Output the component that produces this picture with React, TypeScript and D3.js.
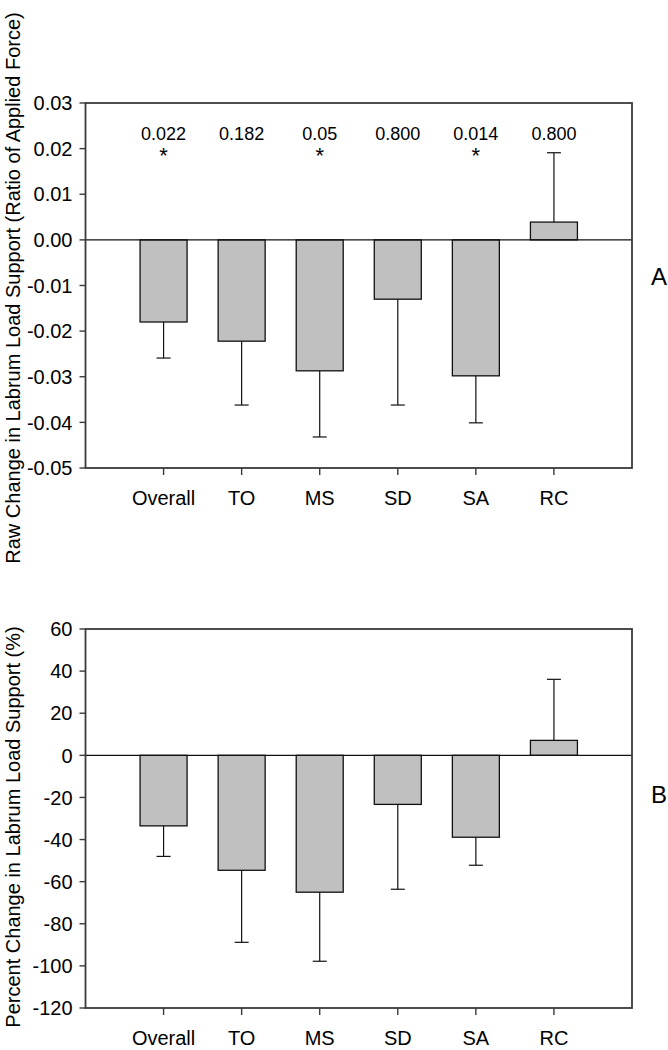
import React from "react";
import * as d3 from "d3";

const categories = ["Overall", "TO", "MS", "SD", "SA", "RC"];
const rawValues = [-0.018, -0.0222, -0.0287, -0.013, -0.0298, 0.0039];
const rawErrors = [-0.0259, -0.0362, -0.0432, -0.0362, -0.0401, 0.0191];
const pValues = ["0.022", "0.182", "0.05", "0.800", "0.014", "0.800"];
const significant = [true, false, true, false, true, false];
const rawTicks = [0.03, 0.02, 0.01, 0.0, -0.01, -0.02, -0.03, -0.04, -0.05];

const pctValues = [-33.5, -54.6, -65, -23.3, -38.9, 7.1];
const pctErrors = [-48, -88.8, -97.8, -63.6, -52.2, 36.1];
const pctTicks = [60, 40, 20, 0, -20, -40, -60, -80, -100, -120];

const FONT = "'Liberation Sans', Arial, sans-serif";

type PanelProps = {
  top: number;
  bottom: number;
  domain: [number, number];
  values: number[];
  errors: number[];
  ticks: number[];
  fmt: (v: number) => string;
  title: string;
  titleY: number;
  letter: string;
  letterY: number;
  pv?: string[];
  sig?: boolean[];
};

function Panel({ top, bottom, domain, values, errors, ticks, fmt, title, titleY, letter, letterY, pv, sig }: PanelProps) {
  const left = 85.5;
  const right = 632;
  const x = d3.scaleLinear().domain([0, 7]).range([left, right]);
  const y = d3.scaleLinear().domain(domain).range([bottom, top]);
  const bw = 47;
  const cap = 14;
  const frame = "#3a3a3a";
  return (
    <g>
      {categories.map((c, i) => {
        const cx = x(i + 1);
        const v = values[i];
        const y0 = y(0);
        const yv = y(v);
        return (
          <g key={c}>
            <line x1={cx} x2={cx} y1={yv} y2={y(errors[i])} stroke="#111" strokeWidth={1.2} />
            <line x1={cx - cap / 2} x2={cx + cap / 2} y1={y(errors[i])} y2={y(errors[i])} stroke="#111" strokeWidth={1.2} />
            <rect
              x={cx - bw / 2}
              y={Math.min(y0, yv)}
              width={bw}
              height={Math.abs(yv - y0)}
              fill="#c0c0c0"
              stroke="#111"
              strokeWidth={1.3}
            />
          </g>
        );
      })}
      <line x1={left} x2={right} y1={y(0)} y2={y(0)} stroke="#111" strokeWidth={1.3} />
      <rect x={left} y={top} width={right - left} height={bottom - top} fill="none" stroke={frame} strokeWidth={1.8} />
      {ticks.map((t) => (
        <g key={t}>
          <line x1={left - 6} x2={left} y1={y(t)} y2={y(t)} stroke={frame} strokeWidth={1.4} />
          <text x={left - 13} y={y(t)} dy="0.36em" textAnchor="end" fontSize={20} fontFamily={FONT} fill="#000">
            {fmt(t)}
          </text>
        </g>
      ))}
      {categories.map((c, i) => (
        <g key={"x" + c}>
          <line x1={x(i + 1)} x2={x(i + 1)} y1={bottom} y2={bottom + 7} stroke={frame} strokeWidth={1.4} />
          <text x={x(i + 1)} y={bottom + 37} textAnchor="middle" fontSize={20} fontFamily={FONT} fill="#000">
            {c}
          </text>
        </g>
      ))}
      {pv &&
        pv.map((p, i) => (
          <g key={"p" + i}>
            <text x={x(i + 1)} y={top + 37} textAnchor="middle" fontSize={18} fontFamily={FONT} fill="#000">
              {p}
            </text>
            {sig && sig[i] && (
              <text x={x(i + 1)} y={top + 60} textAnchor="middle" fontSize={22} fontFamily={FONT} fill="#000">
                *
              </text>
            )}
          </g>
        ))}
      <text
        transform={`translate(13,${titleY}) rotate(-90)`}
        textAnchor="middle"
        dy="0.35em"
        fontSize={20}
        fontFamily={FONT}
        fill="#000"
      >
        {title}
      </text>
      <text x={659} y={letterY} dy="0.36em" textAnchor="middle" fontSize={24} fontFamily={FONT} fill="#000">
        {letter}
      </text>
    </g>
  );
}

export default function App() {
  return (
    <svg
      width={668}
      height={1050}
      style={{ position: "absolute", left: 0, top: 0, background: "#fff" }}
    >
      <rect width={668} height={1050} fill="#fff" />
      <Panel
        top={103}
        bottom={468}
        domain={[-0.05, 0.03]}
        values={rawValues}
        errors={rawErrors}
        ticks={rawTicks}
        fmt={(v) => d3.format(".2f")(v).replace("−", "-")}
        title="Raw Change in Labrum Load Support (Ratio of Applied Force)"
        titleY={288}
        letter="A"
        letterY={276}
        pv={pValues}
        sig={significant}
      />
      <Panel
        top={629}
        bottom={1008}
        domain={[-120, 60]}
        values={pctValues}
        errors={pctErrors}
        ticks={pctTicks}
        fmt={(v) => String(v)}
        title="Percent Change in Labrum Load Support (%)"
        titleY={827}
        letter="B"
        letterY={794}
      />
    </svg>
  );
}
